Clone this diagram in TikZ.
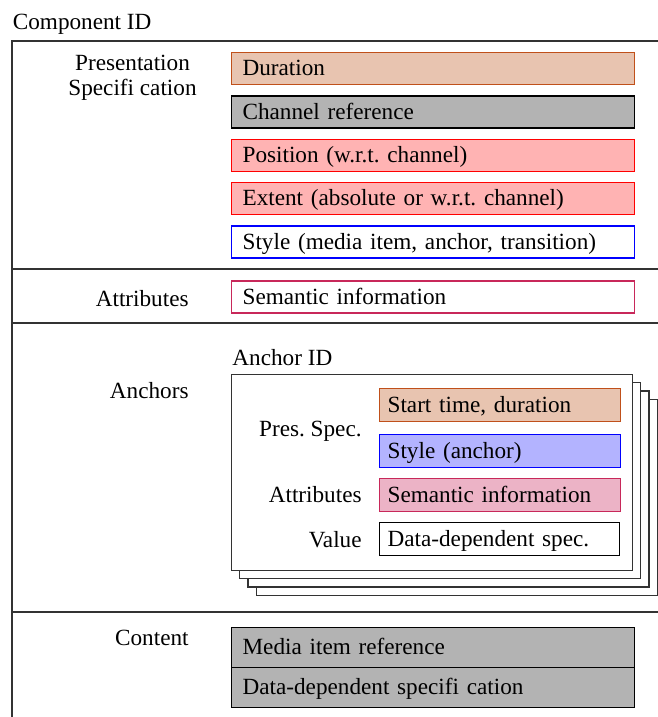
\documentclass[tikz,border=0pt]{standalone}
\usepackage{fontspec}
\setmainfont{Liberation Serif}
\usepackage{tikz}
\usetikzlibrary{positioning}

\definecolor{durfill}{RGB}{232,196,176}
\definecolor{durline}{RGB}{192,80,26}
\definecolor{chanfill}{RGB}{179,179,179}
\definecolor{posfill}{RGB}{255,179,179}
\definecolor{stylefill}{RGB}{179,179,255}
\definecolor{semline}{RGB}{200,40,90}
\definecolor{semfill}{RGB}{236,179,198}

\tikzset{
  frameline/.style={line width=1pt, black!80},
  field/.style={draw, rectangle, anchor=west, line width=0.6pt,
    minimum height=16pt, text width=190.5pt, inner xsep=5.5pt, inner ysep=0pt,
    align=left, text height=8.2pt, text depth=1pt},
  subfield/.style={field, minimum height=16.5pt, text width=112.5pt, inner xsep=4pt},
  contentfield/.style={field, minimum height=20pt, fill=chanfill, draw=black},
  card/.style={draw=black!80, fill=white, line width=0.7pt},
  rowlabel/.style={anchor=base east, inner sep=0pt},
}

\begin{document}
\frenchspacing
\begin{tikzpicture}[x=0.5pt,y=-0.5pt,font=\fontsize{11.6}{12.5}\selectfont]
\useasboundingbox (0,0) rectangle (658,717);

% outer frame and section rules
\node[anchor=base west, inner sep=0pt] (compid) at (12.5,29.5) {Component ID};
\draw[frameline] (12,717) -- (12,41) -- (658,41);
\foreach \y in {269,323,612} {
\draw[frameline] (12,\y) -- (658,\y);
}

% presentation specification
\node[anchor=north east, inner sep=0pt, align=center] (preslabel) at (197,55) {Presentation\\Specifi cation};
\node[field, fill=durfill, draw=durline] (duration) at (231,68.5) {Duration};
\node[field, fill=chanfill, draw=black] (channel) at (231,112) {Channel reference};
\node[field, fill=posfill, draw=red] (position) at (231,155.5) {Position (w.r.t. channel)};
\node[field, fill=posfill, draw=red] (extent) at (231,198.5) {Extent (absolute or w.r.t. channel)};
\node[field, fill=white, draw=blue] (style) at (231,242) {Style (media item, anchor, transition)};

% attributes
\node[rowlabel] (attrlabel) at (189,306) {Attributes};
\node[field, fill=white, draw=semline] (semantic) at (231,297) {Semantic information};

% anchors
\node[rowlabel] (anchorlabel) at (189,398.3) {Anchors};
\node[anchor=base west, inner sep=0pt] (anchorid) at (232,365) {Anchor ID};
\foreach \k in {3,2,1} {
\draw[card] (231+8.5*\k,374+8.5*\k) rectangle ++(401,196);
}
\node[card, anchor=north west, inner sep=0pt, minimum width=200.5pt, minimum height=98pt] (anchorcard) at (231,374) {};
\node[rowlabel] (presspec) at (362,436) {Pres. Spec.};
\node[rowlabel] (anchorattr) at (362,502) {Attributes};
\node[rowlabel] (valuelabel) at (362,547) {Value};
\node[subfield, fill=durfill, draw=durline] (starttime) at (379,405) {Start time, duration};
\node[subfield, fill=stylefill, draw=blue] (anchorstyle) at (379,451) {Style (anchor)};
\node[subfield, fill=semfill, draw=semline] (anchorsem) at (379,495) {Semantic information};
\node[subfield, fill=white, draw=black, text width=112pt] (datadep) at (379,539) {Data-dependent spec.};

% content
\node[rowlabel] (contentlabel) at (189,645) {Content};
\node[contentfield] (mediaref) at (231,647.5) {Media item reference};
\node[contentfield] (dataspec) at (231,687.5) {Data-dependent specifi cation};
\end{tikzpicture}
\end{document}
